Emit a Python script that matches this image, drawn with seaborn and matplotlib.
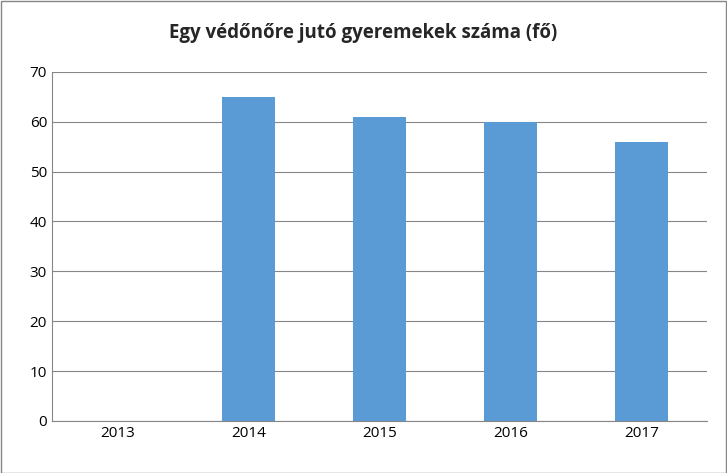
import matplotlib
matplotlib.use("Agg")
import matplotlib.pyplot as plt
import seaborn as sns
import pandas as pd

years = ["2013", "2014", "2015", "2016", "2017"]
children = [0, 65, 61, 60, 56]

df = pd.DataFrame({"ev": years, "gyerek": children})

sns.set_style("white")
plt.rcParams["font.family"] = ["Open Sans", "DejaVu Sans"]

fig = plt.figure(figsize=(7.27, 4.73), dpi=100)
ax = fig.add_axes([0.0715, 0.110, 0.901, 0.738])
sns.barplot(data=df, x="ev", y="gyerek", color="#5B9BD5", width=0.4, saturation=1,
            linewidth=0, ax=ax)

ax.set_ylim(0, 70)
ax.set_yticks(range(0, 71, 10))
ax.yaxis.grid(True, color="#868686", linewidth=0.8)
ax.set_axisbelow(True)
for s in ["top", "right"]:
    ax.spines[s].set_visible(False)
ax.spines["left"].set_color("#868686")
ax.spines["bottom"].set_color("#868686")
ax.tick_params(axis="both", labelsize=11, colors="black", length=0)
ax.set_xlabel("")
ax.set_ylabel("")

fig.text(0.5, 0.93, "Egy védőnőre jutó gyeremekek száma (fő)", ha="center", va="center",
         fontsize=13.5, fontweight="bold")
fig.patches.append(plt.Rectangle((0.001, 0.001), 0.997, 0.997, transform=fig.transFigure,
                                 fill=False, edgecolor="#868686", linewidth=1))
fig.savefig("out.png", dpi=100)
